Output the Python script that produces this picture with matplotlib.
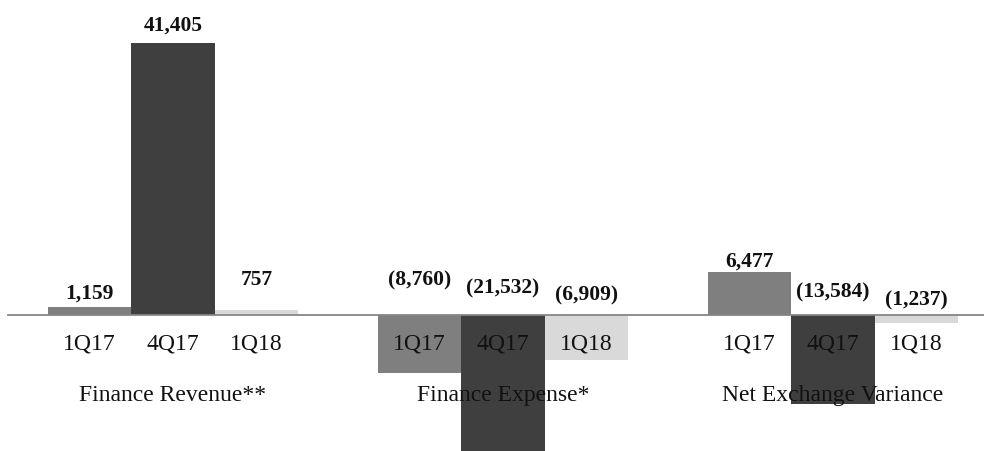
import matplotlib
matplotlib.use("Agg")
import matplotlib.pyplot as plt
import numpy as np

# Quarterly figures (thousands), one list per period
groups = ["Finance Revenue**", "Finance Expense*", "Net Exchange Variance"]
periods = ["1Q17", "4Q17", "1Q18"]
q1_17 = [1159, -8760, 6477]
q4_17 = [41405, -21532, -13584]
q1_18 = [757, -6909, -1237]

colors = ["#7f7f7f", "#3f3f3f", "#d9d9d9"]
# vertical gap (px) between label baseline and bar top / zero line
label_gap = [[10, 31, 7], [13, 23, 19], [26, 16, 11]]

plt.rcParams["font.family"] = ["Liberation Serif", "DejaVu Serif"]

fig = plt.figure(figsize=(9.84, 4.52), dpi=100)
ax = fig.add_axes([0, 0, 1, 1])
ax.set_xlim(-0.524, 2.458)
ax.set_ylim(-20700, 48100)
ax.axis("off")

x = np.arange(len(groups))
width = 0.253
offsets = [-width, 0, width]
series = [q1_17, q4_17, q1_18]

for i, (vals, col) in enumerate(zip(series, colors)):
    xs = x + offsets[i]
    ax.bar(xs, vals, width=width, color=col, zorder=2)
    for j, (xx, v) in enumerate(zip(xs, vals)):
        txt = f"{v:,}" if v >= 0 else f"({abs(v):,})"
        ax.annotate(txt, xy=(xx, max(v, 0)), xytext=(0, label_gap[i][j] * 0.72),
                    textcoords="offset points", ha="center", va="baseline",
                    fontsize=15.5, fontweight="bold", color="#111111", zorder=4)
        # period labels just under the zero line
        ax.annotate(periods[i], xy=(xx, 0), xytext=(0, -33 * 0.72),
                    textcoords="offset points", ha="center", va="baseline",
                    fontsize=17, color="#111111", zorder=4)

for j, g in enumerate(groups):
    ax.annotate(g, xy=(x[j], 0), xytext=(0, -85 * 0.72),
                textcoords="offset points", ha="center", va="baseline",
                fontsize=17, color="#111111", zorder=4)

ax.plot([-0.5, 2.458], [0, 0], color="#868686", lw=1.3, zorder=3)

fig.savefig("out.png", dpi=100)
